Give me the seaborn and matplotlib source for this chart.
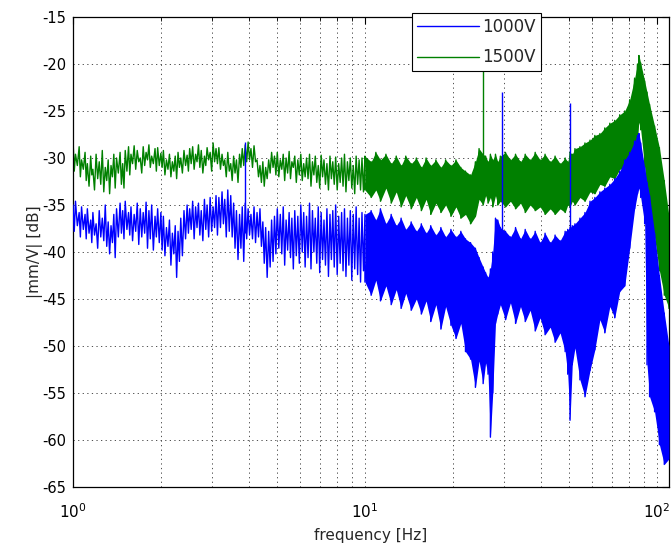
import numpy as np
import pandas as pd
import matplotlib
matplotlib.use("Agg")
import matplotlib.pyplot as plt
from matplotlib.lines import Line2D
from matplotlib.ticker import NullFormatter, LogLocator
import seaborn as sns

# ---- 1 Hz to 10 Hz: local maxima (at freq_pk) and minima (at freq_tr) ----
freq_pk = [
    1.00, 1.02, 1.05, 1.07, 1.10, 1.12, 1.15, 1.17, 1.20, 1.23,
    1.26, 1.29, 1.32, 1.35, 1.38, 1.41, 1.45, 1.48, 1.51, 1.55,
    1.58, 1.62, 1.66, 1.70, 1.74, 1.78, 1.82, 1.86, 1.91, 1.95,
    2.00, 2.04, 2.09, 2.14, 2.19, 2.24, 2.29, 2.34, 2.40, 2.46,
    2.51, 2.57, 2.63, 2.69, 2.75, 2.82, 2.88, 2.95, 3.02, 3.09,
    3.16, 3.24, 3.31, 3.39, 3.47, 3.55, 3.63, 3.72, 3.80, 3.89,
    3.98, 4.07, 4.17, 4.27, 4.37, 4.47, 4.57, 4.68, 4.79, 4.90,
    5.01, 5.13, 5.25, 5.37, 5.50, 5.62, 5.75, 5.89, 6.03, 6.17,
    6.31, 6.46, 6.61, 6.76, 6.92, 7.08, 7.24, 7.41, 7.59, 7.76,
    7.94, 8.13, 8.32, 8.51, 8.71, 8.91, 9.12, 9.33, 9.55, 9.77,
]
freq_tr = [
    1.01, 1.035, 1.06, 1.085, 1.11, 1.135, 1.16, 1.185, 1.215, 1.245,
    1.275, 1.305, 1.335, 1.365, 1.395, 1.43, 1.465, 1.495, 1.53, 1.565,
    1.60, 1.64, 1.68, 1.72, 1.76, 1.80, 1.84, 1.885, 1.93, 1.975,
    2.02, 2.065, 2.115, 2.165, 2.215, 2.265, 2.315, 2.37, 2.43, 2.485,
    2.54, 2.60, 2.66, 2.72, 2.785, 2.85, 2.915, 2.985, 3.055, 3.125,
    3.20, 3.275, 3.35, 3.43, 3.51, 3.59, 3.675, 3.76, 3.845, 3.935,
    4.025, 4.12, 4.22, 4.32, 4.42, 4.52, 4.625, 4.735, 4.845, 4.955,
    5.07, 5.19, 5.31, 5.435, 5.56, 5.685, 5.82, 5.96, 6.10, 6.24,
    6.385, 6.535, 6.685, 6.84, 7.00, 7.16, 7.325, 7.50, 7.675, 7.85,
    8.035, 8.225, 8.415, 8.61, 8.81, 9.015, 9.225, 9.44, 9.66, 9.885,
]
v1500_pk = [
    -27.9, -29.6, -28.8, -30.2, -29.4, -30.6, -29.8, -31.2, -29.6, -30.4,
    -29.2, -31.0, -30.2, -30.8, -29.6, -30.0, -29.4, -30.6, -29.2, -28.8,
    -29.6, -28.7, -29.2, -30.0, -28.8, -29.4, -28.6, -29.8, -29.0, -28.9,
    -29.5, -29.2, -30.2, -29.6, -30.4, -29.8, -29.4, -30.0, -29.2, -29.7,
    -29.0, -28.8, -29.6, -28.6, -29.2, -29.8, -28.9, -29.4, -28.4, -29.0,
    -28.9, -29.6, -30.2, -29.4, -30.6, -29.8, -30.2, -29.6, -29.0, -28.6,
    -28.3, -29.0, -28.7, -30.2, -30.8, -30.4, -31.0, -30.2, -29.4, -29.8,
    -29.4, -30.2, -29.6, -30.0, -29.3, -30.4, -29.8, -30.2, -29.6, -30.6,
    -30.0, -29.6, -30.4, -29.8, -30.8, -29.7, -30.2, -30.6, -29.8, -30.4,
    -29.9, -30.6, -30.0, -29.6, -30.4, -30.0, -30.8, -29.8, -30.2, -30.0,
]
v1500_tr = [
    -31.4, -30.8, -32.0, -31.2, -32.4, -33.0, -31.8, -33.4, -32.2, -32.8,
    -33.6, -32.4, -33.8, -32.0, -33.2, -31.6, -32.8, -33.2, -31.4, -31.8,
    -30.6, -31.2, -30.4, -31.6, -30.8, -30.2, -31.0, -30.6, -31.4, -30.8,
    -31.0, -31.8, -31.2, -32.0, -31.4, -32.2, -31.0, -31.6, -30.8, -31.4,
    -30.6, -31.2, -30.4, -31.0, -31.6, -30.8, -30.2, -31.4, -30.4, -30.6,
    -31.2, -30.8, -32.0, -31.4, -32.4, -31.6, -32.6, -31.0, -30.8, -30.4,
    -30.2, -31.0, -30.4, -32.0, -32.6, -33.0, -32.2, -31.6, -31.0, -31.8,
    -32.0, -31.2, -32.4, -31.6, -32.2, -31.0, -32.6, -31.8, -32.4, -32.0,
    -32.2, -33.0, -31.8, -32.6, -33.2, -32.0, -32.8, -33.4, -32.2, -32.8,
    -33.4, -32.6, -33.0, -33.6, -32.4, -33.2, -33.8, -32.8, -33.4, -33.6,
]
v1000_pk = [
    -35.0, -34.6, -35.8, -35.2, -36.0, -35.4, -36.6, -35.8, -37.0, -35.6,
    -36.4, -35.0, -36.8, -37.2, -36.0, -35.4, -34.8, -35.6, -34.6, -35.8,
    -35.2, -36.0, -34.8, -35.4, -35.8, -34.7, -35.6, -35.0, -36.2, -35.4,
    -35.8, -36.2, -37.4, -36.6, -38.0, -37.2, -37.8, -36.4, -35.6, -35.0,
    -35.4, -34.6, -35.2, -34.8, -35.6, -34.4, -35.0, -34.2, -35.2, -34.0,
    -34.2, -33.6, -34.4, -33.4, -34.0, -34.8, -35.6, -36.0, -35.2, -34.8,
    -35.4, -36.0, -35.2, -35.8, -35.4, -36.8, -37.4, -37.8, -36.6, -36.2,
    -35.4, -36.0, -35.2, -36.6, -35.8, -36.4, -35.6, -36.2, -35.0, -35.8,
    -36.2, -34.8, -35.6, -36.4, -35.2, -35.8, -36.6, -35.4, -36.0, -35.6,
    -35.0, -36.2, -35.8, -35.4, -36.4, -35.6, -36.0, -35.2, -36.4, -35.8,
]
v1000_tr = [
    -37.8, -37.2, -38.4, -37.6, -38.6, -38.0, -39.0, -38.2, -39.6, -38.4,
    -38.8, -39.4, -40.2, -39.0, -40.6, -38.4, -38.0, -38.6, -37.6, -38.2,
    -38.8, -37.8, -39.2, -38.4, -38.0, -39.6, -38.6, -39.8, -38.4, -39.0,
    -39.8, -40.4, -39.4, -41.4, -40.2, -42.7, -41.0, -40.4, -38.6, -38.0,
    -37.6, -38.6, -37.4, -38.2, -38.8, -37.6, -38.4, -37.8, -37.4, -38.2,
    -37.4, -37.0, -38.4, -37.8, -38.4, -39.6, -40.8, -39.6, -41.0, -38.6,
    -38.2, -38.6, -39.0, -38.4, -39.4, -41.2, -42.7, -41.6, -41.0, -40.2,
    -39.6, -40.2, -41.4, -39.8, -40.6, -41.8, -40.4, -41.2, -40.0, -41.6,
    -40.6, -41.8, -40.0, -41.2, -42.2, -40.8, -41.4, -42.6, -40.8, -41.6,
    -42.4, -41.2, -42.0, -42.6, -41.4, -43.0, -41.8, -42.4, -43.2, -42.0,
]

# ---- 10 Hz to 110 Hz: upper / lower excursion of the dense band ----------
freq_high = [
    10.0, 10.5, 10.9, 11.3, 11.8, 12.3, 12.8, 13.3, 13.8, 14.4,
    15.0, 15.6, 16.2, 16.8, 17.5, 18.2, 18.9, 19.7, 20.5, 21.3,
    22.1, 23.0, 23.9, 24.6, 25.4, 25.9, 26.4, 26.9, 27.4, 28.0,
    28.5, 29.1, 30.3, 31.5, 32.8, 34.1, 35.4, 36.8, 38.3, 39.8,
    41.4, 43.1, 44.8, 46.6, 48.5, 49.5, 50.4, 51.3, 52.4, 54.5,
    56.7, 59.0, 61.3, 63.8, 66.3, 69.0, 71.7, 74.6, 77.6, 80.7,
    83.9, 85.8, 86.8, 88.0, 90.8, 92.5, 94.4, 98.2, 102.0, 106.0,
    110.0,
]
v1500_hi = [
    -29.8, -30.4, -29.4, -30.2, -29.6, -30.6, -29.8, -30.8, -29.8, -30.6,
    -30.0, -31.0, -30.0, -30.8, -30.2, -31.0, -30.2, -30.8, -30.2, -31.0,
    -31.4, -31.8, -30.4, -29.0, -29.6, -29.8, -30.4, -29.6, -30.2, -29.6,
    -30.4, -29.8, -29.4, -30.2, -29.6, -30.4, -29.6, -30.2, -29.4, -30.2,
    -29.6, -30.4, -29.8, -30.6, -30.0, -30.4, -29.4, -29.6, -29.0, -28.8,
    -28.4, -28.1, -27.6, -27.4, -26.8, -26.3, -26.0, -25.4, -25.0, -23.8,
    -21.5, -20.0, -19.1, -19.9, -21.8, -23.0, -24.3, -26.6, -28.9, -32.4,
    -36.2,
]
v1500_lo = [
    -33.4, -34.2, -33.4, -34.6, -33.2, -34.8, -33.6, -35.2, -34.0, -35.4,
    -34.2, -35.6, -34.4, -36.0, -34.8, -35.8, -35.0, -36.2, -35.2, -36.4,
    -36.0, -37.0, -36.2, -34.4, -35.0, -34.0, -34.8, -34.2, -35.2, -34.0,
    -35.0, -34.6, -35.2, -34.6, -35.4, -34.8, -35.8, -35.0, -35.6, -35.2,
    -36.0, -35.4, -36.0, -35.4, -35.8, -35.0, -35.2, -34.6, -35.0, -34.2,
    -34.6, -33.6, -33.8, -32.8, -33.0, -32.0, -32.2, -31.2, -31.0, -30.0,
    -29.4, -27.6, -26.2, -27.0, -31.0, -34.0, -36.0, -38.5, -42.0, -44.6,
    -46.0,
]
v1000_hi = [
    -36.0, -35.6, -36.6, -35.4, -37.0, -36.0, -37.2, -36.4, -37.6, -36.8,
    -37.8, -37.0, -38.0, -37.2, -38.2, -37.4, -38.4, -37.6, -38.4, -37.8,
    -38.6, -39.0, -39.6, -40.6, -41.6, -42.2, -42.7, -41.8, -40.0, -36.4,
    -36.6, -37.4, -37.8, -38.4, -37.4, -38.6, -37.6, -38.6, -37.8, -39.0,
    -38.0, -39.0, -38.2, -38.8, -37.8, -37.6, -37.4, -37.2, -37.0, -36.4,
    -35.8, -34.6, -34.2, -33.6, -33.2, -32.8, -32.2, -31.4, -30.2, -29.4,
    -28.2, -27.6, -27.4, -28.4, -31.0, -32.6, -34.0, -38.0, -42.5, -46.5,
    -50.0,
]
v1000_lo = [
    -43.2, -44.6, -43.0, -45.2, -43.6, -45.6, -44.0, -46.0, -44.4, -46.2,
    -45.0, -46.6, -45.2, -47.4, -45.6, -48.2, -45.8, -47.8, -49.2, -47.6,
    -50.6, -51.4, -54.4, -51.6, -54.0, -51.8, -53.0, -59.7, -55.0, -47.6,
    -46.6, -45.6, -47.2, -45.4, -47.6, -45.8, -47.4, -46.2, -48.4, -47.0,
    -48.8, -48.0, -49.6, -48.6, -50.6, -53.0, -57.9, -52.0, -50.2, -53.6,
    -55.4, -52.6, -50.4, -47.2, -48.6, -45.8, -47.0, -44.2, -43.6, -39.6,
    -35.4, -33.8, -33.2, -34.2, -37.0, -52.0, -55.4, -57.0, -60.5, -62.6,
    -62.0,
]

# Narrow single-bin lines (frequency, top, base in dB)
spike_1500_freq = [25.35]
spike_1500_top = [-18.0]
spike_1500_base = [-33.0]
spike_1000_freq = [3.88, 29.4, 50.3]
spike_1000_top = [-28.3, -23.0, -24.1]
spike_1000_base = [-38.0, -40.0, -46.0]

labels = ["1000V", "1500V"]
colors = {"1000V": "#0000ff", "1500V": "#008000"}
y_ticks = list(range(-65, -14, 5))


def trace(name, pk, tr, hi, lo):
    low = pd.DataFrame({"freq": freq_pk + freq_tr, "db": pk + tr})
    low = low.sort_values("freq", kind="stable")
    xs, ys = [], []
    for f, h, l in zip(freq_high, hi, lo):
        xs += [f, f]
        ys += [h, l]
    high = pd.DataFrame({"freq": xs, "db": ys})
    out = pd.concat([low, high], ignore_index=True)
    out["series"] = name
    return out


sns.set_theme(style="white")
plt.rcParams["font.family"] = ["DejaVu Sans"]
plt.rcParams["axes.unicode_minus"] = False

fig = plt.figure(figsize=(6.72, 5.48), dpi=100)
ax = fig.add_axes([0.1086, 0.1113, 0.8869, 0.8577])
ax.set_xscale("log")

fh = np.array(freq_high)

# 1500 V trace underneath
sns.lineplot(data=trace("1500V", v1500_pk, v1500_tr, v1500_hi, v1500_lo),
             x="freq", y="db", color=colors["1500V"], lw=1.0, estimator=None,
             sort=False, ax=ax, zorder=2, legend=False)
ax.fill_between(fh, v1500_lo, v1500_hi, color=colors["1500V"], lw=0, zorder=2)
ax.vlines(spike_1500_freq, spike_1500_base, spike_1500_top,
          color=colors["1500V"], lw=1.0, zorder=2)

# 1000 V trace on top
sns.lineplot(data=trace("1000V", v1000_pk, v1000_tr, v1000_hi, v1000_lo),
             x="freq", y="db", color=colors["1000V"], lw=1.0, estimator=None,
             sort=False, ax=ax, zorder=3, legend=False)
ax.fill_between(fh, v1000_lo, v1000_hi, color=colors["1000V"], lw=0, zorder=3)
ax.vlines(spike_1000_freq, spike_1000_base, spike_1000_top,
          color=colors["1000V"], lw=1.0, zorder=3)

ax.set_xlim(1, 110)
ax.set_ylim(-65, -15)
ax.set_yticks(y_ticks)
ax.xaxis.set_minor_locator(LogLocator(base=10, subs=np.arange(2, 10)))
ax.xaxis.set_minor_formatter(NullFormatter())

grid_kw = dict(color="#333333", lw=0.6, dashes=(1.5, 4.0))
ax.set_axisbelow(True)
ax.grid(True, which="major", axis="both", **grid_kw)
ax.grid(True, which="minor", axis="x", **grid_kw)

ax.tick_params(which="both", direction="in", top=True, right=True, colors="black")
ax.tick_params(which="major", length=5, width=0.8)
ax.tick_params(which="minor", length=3, width=0.6)
ax.tick_params(axis="y", labelsize=10.5, pad=5)
ax.tick_params(axis="x", labelsize=11, pad=11)
for s in ax.spines.values():
    s.set_color("black")
    s.set_linewidth(0.9)

ax.set_xlabel("frequency [Hz]", fontsize=11, labelpad=5)
ax.set_ylabel("|mm/V| [dB]", fontsize=11, labelpad=-1)

handles = [Line2D([], [], color=colors[k], lw=1.0) for k in labels]
leg = ax.legend(handles, labels, loc="upper left", bbox_to_anchor=(0.569, 1.0085),
                borderaxespad=0, frameon=True, fancybox=False, edgecolor="black",
                framealpha=1, facecolor="white", handlelength=3.7,
                handletextpad=0.2, borderpad=0.3, labelspacing=0.75, fontsize=12)
leg.get_frame().set_linewidth(0.8)
leg.set_zorder(10)

fig.savefig("out.png", dpi=100)
